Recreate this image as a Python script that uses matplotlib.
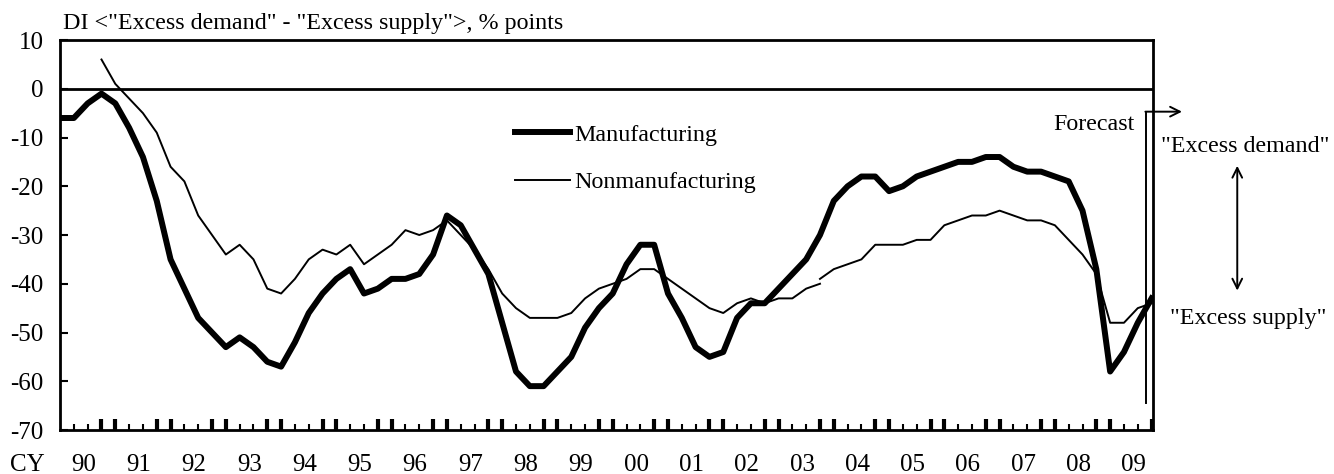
import numpy as np
import matplotlib
matplotlib.use("Agg")
import matplotlib.pyplot as plt

plt.rcParams['font.family'] = ['Liberation Serif', 'DejaVu Serif']
plt.rcParams['axes.unicode_minus'] = False

# Tankan DI for employment conditions, quarterly from CY1990 Q1 to CY2009 Q4 (last one is the forecast)
years = ['90', '91', '92', '93', '94', '95', '96', '97', '98', '99',
         '00', '01', '02', '03', '04', '05', '06', '07', '08', '09']

manufacturing = [-6, -6, -3, -1, -3, -8, -14, -23, -35, -41,
                 -47, -50, -53, -51, -53, -56, -57, -52, -46, -42,
                 -39, -37, -42, -41, -39, -39, -38, -34, -26, -28,
                 -33, -38, -48, -58, -61, -61, -58, -55, -49, -45,
                 -42, -36, -32, -32, -42, -47, -53, -55, -54, -47,
                 -44, -44, -41, -38, -35, -30, -23, -20, -18, -18,
                 -21, -20, -18, -17, -16, -15, -15, -14, -14, -16,
                 -17, -17, -18, -19, -25, -37, -58, -54, -48, -43]

# nonmanufacturing, old survey basis (1990 Q4 - 2003 Q4)
nonmanuf_old = [6, 1, -2, -5, -9, -16, -19, -26, -30, -34,
                -32, -35, -41, -42, -39, -35, -33, -34, -32, -36,
                -34, -32, -29, -30, -29, -27, -30, -33, -37, -42,
                -45, -47, -47, -47, -46, -43, -41, -40, -39, -37,
                -37, -39, -41, -43, -45, -46, -44, -43, -44, -43,
                -43, -41, -40]

# nonmanufacturing, new survey basis (2003 Q4 - 2009 Q4)
nonmanuf_new = [-39, -37, -36, -35, -32, -32, -32, -31, -31, -28,
                -27, -26, -26, -25, -26, -27, -27, -28, -31, -34,
                -38, -48, -48, -45, -44]

q = np.arange(len(manufacturing))
q_old = np.arange(3, 3 + len(nonmanuf_old))
q_new = np.arange(len(q) - len(nonmanuf_new), len(q))

fig = plt.figure(figsize=(13.34, 4.74), dpi=100)
ax = fig.add_axes([0.045, 0.0928, 0.8193, 0.8228])

l1, = ax.plot(q, manufacturing, color='black', lw=4.3, label='Manufacturing')
l2, = ax.plot(q_old, nonmanuf_old, color='black', lw=1.4, label='Nonmanufacturing')
ax.plot(q_new, nonmanuf_new, color='black', lw=1.4)
ax.axhline(0, color='black', lw=2)

ax.set_xlim(0, 79.1)
ax.set_ylim(-70, 10)
for s in ax.spines.values():
    s.set_linewidth(2)

ax.set_yticks(range(-70, 11, 10))
ax.tick_params(axis='y', direction='in', length=6, width=1.5, labelsize=18, pad=12)

major = [i for i in q if i % 4 in (0, 3) and i > 0]
minor = [i for i in q if i % 4 in (1, 2)]
ax.set_xticks(major)
ax.set_xticks(minor, minor=True)
ax.tick_params(axis='x', which='major', direction='in', length=8, width=3, labelbottom=False)
ax.tick_params(axis='x', which='minor', direction='in', length=4.3, width=1.5)

xt = ax.get_xaxis_transform()
for k, y in enumerate(years):
    ax.text(4 * k + 1.7, -0.09, y, transform=xt, ha='center', va='center', fontsize=18)
ax.text(-3.6, -0.09, 'CY', transform=xt, ha='left', va='center', fontsize=18)

fig.text(0.047, 0.951, 'DI <"Excess demand" - "Excess supply">, % points',
         ha='left', va='center', fontsize=17.3)

ax.legend(handles=[l1, l2], loc='upper left', bbox_to_anchor=(0.416, 0.785),
          frameon=False, fontsize=17.3, handlelength=2.3, handletextpad=0.2,
          labelspacing=1.07, borderpad=0, borderaxespad=0)

# forecast marker
ax.plot([78.6, 78.6], [-4.7, -64.4], color='black', lw=1.4, clip_on=False)
ax.annotate('', xy=(81.2, -4.7), xytext=(78.55, -4.7),
            arrowprops=dict(arrowstyle='->,head_length=0.7,head_width=0.35',
                            color='black', lw=1.4, shrinkA=0, shrinkB=0),
            annotation_clip=False)
ax.text(77.8, -7.3, 'Forecast', ha='right', va='center', fontsize=17.3)

# demand / supply guide on the right
ax.text(85.8, -11.8, '"Excess demand"', ha='center', va='center', fontsize=17.3, clip_on=False)
ax.text(86.0, -47.2, '"Excess supply"', ha='center', va='center', fontsize=17.3, clip_on=False)
ax.annotate('', xy=(85.2, -15.8), xytext=(85.2, -41.4),
            arrowprops=dict(arrowstyle='<->,head_length=0.7,head_width=0.35',
                            color='black', lw=1.4, shrinkA=0, shrinkB=0),
            annotation_clip=False)

fig.savefig('out.png', dpi=100)
